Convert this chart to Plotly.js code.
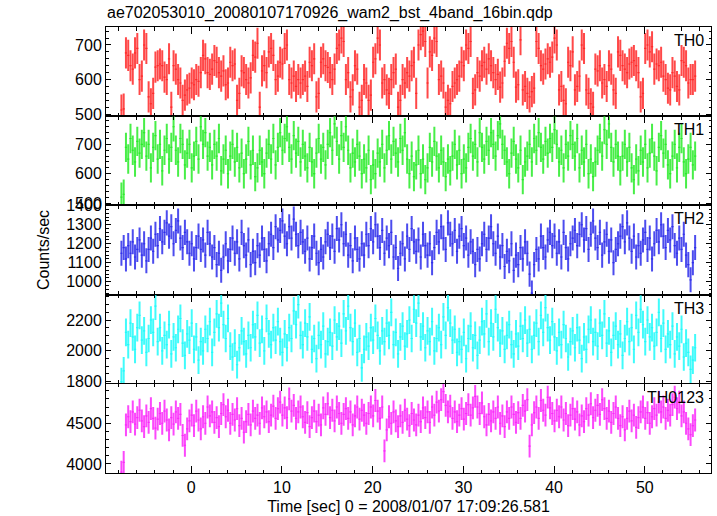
<!DOCTYPE html>
<html>
<head>
<meta charset="utf-8">
<script src="https://cdn.plot.ly/plotly-3.0.1.min.js"></script>
<style>html,body{margin:0;padding:0;background:#fff;}#chart{width:717px;height:516px;}</style>
</head>
<body>
<div id="chart"></div>
<script>
// Time grid (bin centres, sec) and bin width
const T0 = -7.7;
const BIN = 0.25;

const panelNames = ["TH0", "TH1", "TH2", "TH3", "TH0123"];

const th0 = [
512,515,677,670,640,630,677,690,600,610,
700,690,550,530,560,636,640,645,640,607,
600,660,520,640,630,600,590,540,555,570,
575,590,585,600,595,620,670,660,620,615,
630,655,650,620,610,625,585,590,650,640,
645,540,560,625,620,600,590,605,670,665,
705,520,625,640,620,680,690,670,600,610,
650,645,690,700,600,590,610,580,600,
590,600,610,580,650,640,660,550,560,650,
660,640,635,620,600,630,690,700,720,710,
600,620,550,570,640,630,520,540,600,590,
540,555,650,660,720,700,590,600,570,560,
600,620,630,520,540,600,590,620,610,640,
650,560,700,730,740,710,590,680,670,720,
710,600,610,590,520,540,530,580,590,600,
610,650,640,700,690,710,560,570,620,610,
640,650,630,660,640,620,600,615,
578,590,653,705,690,710,650,578,585,715,
570,580,560,550,565,575,710,690,640,630,
645,660,650,665,720,700,570,580,540,530,
650,640,680,570,580,610,700,690,570,560,
530,520,630,625,640,590,600,580,640,630,
570,560,680,670,640,630,620,645,650,655,
640,620,550,560,690,700,680,695,630,645,
640,650,610,600,575,570,620,610,580,570,
655,650,640,590,600,600,610
];

const th1 = [
520,530,690,650,720,680,640,710,670,700,
740,660,700,620,690,730,650,700,610,680,
720,650,690,760,680,640,720,700,630,670,
700,620,660,710,650,760,700,740,660,690,
630,700,660,720,610,650,680,600,660,700,
640,690,620,670,600,650,710,630,680,590,
620,680,640,600,670,700,650,720,630,690,
740,680,720,760,690,650,730,670,710,640,
700,660,620,690,640,600,670,720,650,690,
630,700,740,680,770,710,650,730,690,760,
680,620,670,640,700,660,600,650,620,680,
580,630,600,670,640,700,620,680,730,650,
710,670,640,720,680,740,650,600,660,590,
630,680,600,650,580,620,690,640,710,660,
620,680,640,590,650,610,660,700,630,680,
600,650,620,690,720,660,700,640,740,690,
650,710,680,740,700,660,730,770,700,680,
640,600,670,710,650,620,680,580,640,660,
700,640,720,680,740,690,650,710,670,720,
690,750,700,640,680,620,700,660,730,700,
660,720,620,680,640,700,600,650,590,640,
680,720,660,750,700,770,690,640,700,660,
610,660,700,640,690,620,580,650,610,680,
640,700,620,670,720,660,610,690,730,670,
700,630,600,660,700,620,690,720,640,600,
650,690,630,660
];

const th2 = [
1150,1180,1120,1190,1150,1210,1130,1170,1220,1140,
1200,1110,1170,1230,1160,1250,1190,1280,1210,1260,
1310,1240,1290,1200,1270,1320,1230,1180,1260,1210,
1150,1200,1120,1180,1240,1170,1220,1140,1260,1200,
1130,1180,1090,1150,1060,1130,1200,1110,1170,1230,
1150,1210,1120,1260,1190,1140,1220,1090,1160,1100,
1190,1140,1230,1170,1110,1200,1250,1180,1290,1220,
1270,1320,1240,1200,1290,1230,1330,1250,1190,1260,
1210,1160,1230,1120,1180,1240,1150,1100,1170,1130,
1210,1250,1180,1240,1160,1280,1220,1300,1200,1250,
1140,1190,1110,1230,1170,1120,1200,1140,1250,1190,
1280,1210,1300,1240,1180,1270,1150,1230,1190,1260,
1130,1180,1070,1150,1200,1120,1240,1170,1280,1210,
1160,1220,1130,1250,1190,1140,1200,1100,1180,1260,
1210,1290,1230,1170,1310,1250,1200,1270,1160,1240,
1280,1190,1230,1140,1210,1160,1090,1170,1120,1200,
1250,1170,1230,1290,1200,1150,1240,1130,1190,1080,
1160,1110,1200,1060,1140,1090,1180,1120,1210,1150,
1040,940,1090,1170,1120,1240,1180,1130,1220,1260,
1190,1240,1150,1210,1130,1260,1180,1120,1200,1230,
1270,1190,1250,1300,1220,1280,1170,1250,1320,1230,
1180,1260,1140,1210,1250,1160,1220,1100,1170,1200,
1240,1290,1210,1310,1230,1160,1240,1130,1190,1150,
1220,1260,1170,1230,1120,1200,1270,1210,1300,1240,
1180,1270,1220,1290,1190,1150,1230,1170,1250,1140,
1090,1010,1100,1180
];

const th3 = [
1800,1870,2120,2040,2180,2090,2010,2150,2230,2070,
2130,1990,2080,2200,2120,2290,2060,2150,2000,2100,
2040,2170,1980,2090,2020,2140,2210,2050,1970,2110,
2070,2180,2010,2090,1940,2060,2000,2140,2080,2190,
1990,2120,2240,2150,2310,2170,2080,2210,2030,1960,
2050,1910,2020,2130,2060,1980,2100,2020,2170,2090,
2230,2050,2140,2000,2210,2110,2040,2150,2070,2190,
2060,1990,2110,2020,2150,2080,2260,2170,2300,2100,
2040,2180,2090,2220,2010,2080,1950,2100,2040,2160,
1980,2060,2120,2030,2200,2090,2160,2050,2240,2130,
2290,2150,2060,2180,1990,2080,1890,2010,2090,2030,
2150,2070,2210,2100,2000,2130,2060,2180,2100,2250,
2040,2120,1980,2090,2160,2030,2110,2200,2080,2270,
2180,2310,2090,2160,2020,2130,2060,2190,2000,2080,
2150,2040,2220,2100,2280,2180,2070,2140,1990,2060,
2010,2120,1950,2080,2160,2020,2100,1970,2070,2190,
2110,2240,2060,2180,2090,2270,2150,2050,2130,2010,
2100,2170,2040,1980,2110,2030,2160,2080,2200,2050,
2140,2010,2100,2180,2060,2230,2120,2280,2150,2070,
2190,2090,2000,2120,2040,2170,2080,1960,2060,2130,
2020,2150,2070,1950,2090,2010,2140,2200,2060,2120,
2030,2180,2100,2240,2050,2130,1990,2100,2160,2040,
2110,1970,2080,2190,2060,2150,2010,2230,2120,2270,
2170,2060,2200,2090,2150,2030,2120,2250,2080,2180,
2010,2110,2040,2160,1980,2090,2030,2140,1960,2050,
1990,1880,1940,2020
];

const th0123 = [
3900,4020,4480,4580,4520,4640,4490,4570,4660,4530,
4460,4590,4510,4680,4560,4440,4550,4620,4500,4650,
4540,4420,4570,4490,4640,4560,4610,4350,4230,4430,
4530,4600,4470,4650,4540,4430,4580,4500,4700,4590,
4640,4510,4570,4460,4620,4730,4580,4660,4500,4610,
4540,4680,4470,4560,4390,4520,4610,4480,4650,4560,
4600,4500,4690,4580,4640,4520,4600,4710,4560,4680,
4760,4600,4690,4570,4800,4650,4720,4560,4640,4700,
4580,4510,4630,4460,4570,4650,4520,4600,4480,4690,
4610,4740,4570,4660,4530,4700,4620,4500,4610,4680,
4560,4640,4480,4590,4700,4550,4660,4600,4500,4620,
4700,4590,4780,4650,4560,4700,4160,4420,4580,4500,
4640,4530,4460,4590,4510,4660,4550,4470,4620,4540,
4480,4600,4520,4690,4570,4640,4510,4700,4600,4760,
4650,4790,4890,4720,4640,4710,4560,4640,4520,4600,
4680,4550,4620,4730,4600,4690,4830,4700,4620,4750,
4580,4480,4610,4530,4640,4560,4700,4500,4590,4460,
4640,4560,4700,4610,4510,4630,4560,4720,4650,4790,
4220,4480,4630,4700,4560,4780,4660,4600,4820,4690,
4620,4530,4660,4580,4700,4540,4620,4470,4600,4680,
4550,4640,4480,4590,4520,4680,4600,4740,4570,4660,
4720,4610,4790,4680,4560,4650,4510,4620,4700,4560,
4470,4580,4420,4560,4650,4530,4600,4450,4570,4640,
4700,4560,4630,4500,4580,4680,4600,4760,4640,4700,
4560,4660,4600,4730,4820,4680,4760,4590,4640,4500,
4430,4360,4470,4540
];

// 1-sigma rate errors per panel (counts/sec)
const errors = [45, 50, 66, 90, 140];
const seriesList = [th0, th1, th2, th3, th0123];
const colors = ["rgba(255,40,40,0.85)", "rgba(40,235,40,0.85)", "rgba(45,45,235,0.85)", "rgba(30,250,250,0.85)", "rgba(250,40,250,0.85)"];
const yRanges = [[494, 752], [492, 796], [932, 1402], [1786, 2365], [3889, 4985]];
const yTicks = [[100, 20], [100, 20], [100, 20], [200, 50], [500, 100]];

const FONT = "Liberation Sans, Arial, Helvetica, sans-serif";
const FS = 16;
const traces = [];
const layout = {
  width: 717, height: 516,
  margin: {l: 106, r: 6, t: 27, b: 43},
  paper_bgcolor: "#fff", plot_bgcolor: "#fff",
  showlegend: false,
  font: {family: FONT, size: FS, color: "#000"},
  annotations: [],
  title: {text: "ae702053010_20080107170926_wam2_bst_4band_16bin.qdp",
          xref: "container", yref: "container",
          x: 107/717, xanchor: "left", y: 1 - 12/516, yanchor: "middle",
          font: {family: FONT, size: FS, color: "#000"}}
};

for (let p = 0; p < 5; p++) {
  const vals = seriesList[p];
  const t = vals.map((_, i) => T0 + i * BIN);
  const sfx = p === 0 ? "" : String(p + 1);
  traces.push({
    type: "scatter", mode: "markers",
    x: t, y: vals,
    xaxis: "x" + sfx, yaxis: "y" + sfx,
    marker: {size: 1, color: colors[p]},
    error_y: {type: "constant", value: errors[p], thickness: 2, width: 0, color: colors[p]},
    error_x: {type: "constant", value: BIN / 2, thickness: 1.2, width: 0, color: colors[p]},
    hoverinfo: "skip"
  });
  const top = 1 - p * 0.2, bot = top - 0.2;
  layout["yaxis" + sfx] = {
    domain: [bot, top], range: yRanges[p], anchor: "x" + sfx,
    showgrid: false, zeroline: false, showline: true, linecolor: "#000", linewidth: 1,
    mirror: "allticks", ticks: "inside", ticklen: 5, tickcolor: "#000", tickwidth: 1,
    dtick: yTicks[p][0], tick0: 0,
    minor: {dtick: yTicks[p][1], ticks: "inside", ticklen: 2.5, tickcolor: "#000", showgrid: false},
    tickfont: {family: FONT, size: FS, color: "#000"}
  };
  layout["xaxis" + sfx] = {
    domain: [0, 1], range: [-9.4, 57.3], anchor: "y" + sfx,
    showgrid: false, zeroline: false, showline: true, linecolor: "#000", linewidth: 1,
    mirror: "allticks", ticks: "inside", ticklen: 7, tickcolor: "#000", tickwidth: 1,
    dtick: 10, tick0: 0,
    minor: {dtick: 2, ticks: "inside", ticklen: 3.5, tickcolor: "#000", showgrid: false},
    showticklabels: p === 4,
    tickfont: {family: FONT, size: FS, color: "#000"}
  };
  layout.annotations.push({
    text: panelNames[p], xref: "paper", yref: "paper",
    x: 1 - 5/605, xanchor: "right", y: top - 3/446, yanchor: "top",
    showarrow: false, font: {family: FONT, size: FS, color: "#000"}
  });
}
layout.xaxis5.title = {text: "Time [sec] 0 = 2008/01/07 17:09:26.581", font: {family: FONT, size: FS, color: "#000"}, standoff: 5};
layout.annotations.push({
  text: "Counts/sec", xref: "paper", yref: "paper", x: -63/605, xanchor: "center",
  y: 0.5, yanchor: "middle", textangle: -90, showarrow: false,
  font: {family: FONT, size: FS, color: "#000"}
});

Plotly.newPlot("chart", traces, layout, {staticPlot: true, displayModeBar: false});
</script>
</body>
</html>
